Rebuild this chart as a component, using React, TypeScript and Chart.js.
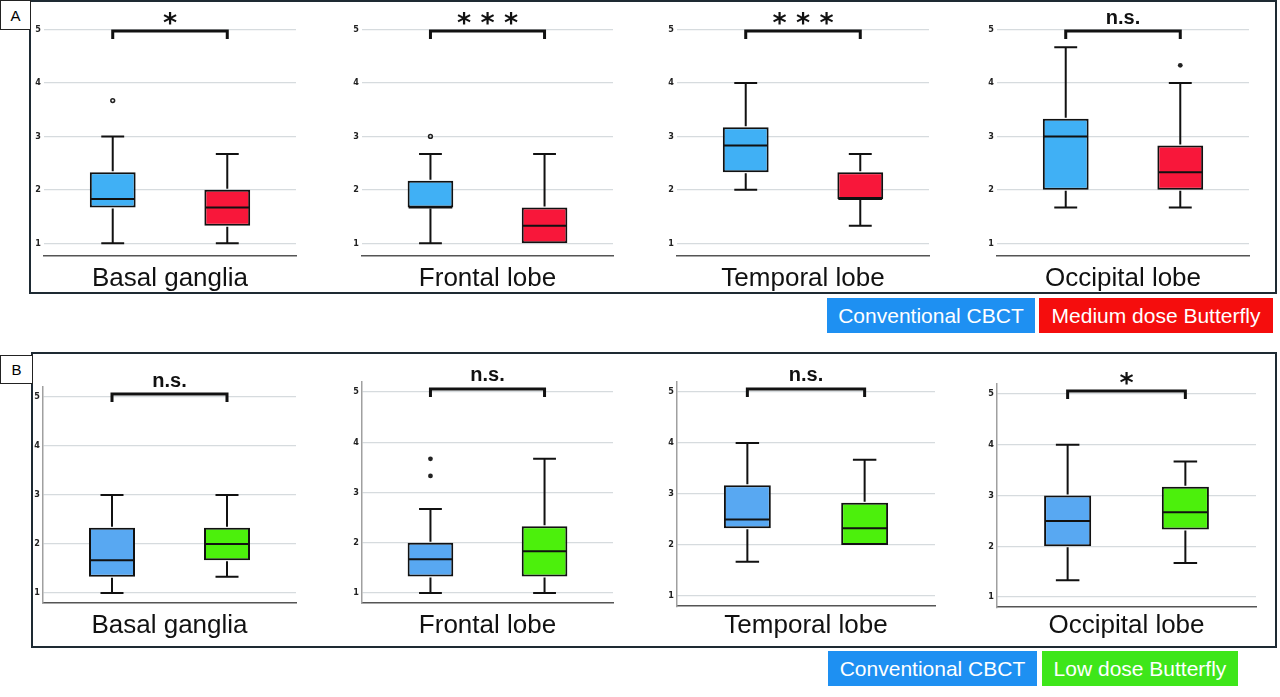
import React, { useEffect, useRef } from "react";
import { Chart, registerables } from "chart.js";

Chart.register(...registerables);

// ---------------- data ----------------
const REGIONS = ["Basal ganglia", "Frontal lobe", "Temporal lobe", "Occipital lobe"];
const Y_TICKS = [1, 2, 3, 4, 5];
const GROUP_POSITIONS = [0, 1];
const GROUPS_A = ["Conventional CBCT", "Medium dose Butterfly"];
const GROUPS_B = ["Conventional CBCT", "Low dose Butterfly"];

// box statistics: [min, q1, median, q3, max]
const A_CONVENTIONAL = [
  [1, 1.67, 1.83, 2.33, 3],
  [1, 1.67, 1.67, 2.17, 2.67],
  [2, 2.33, 2.83, 3.17, 4],
  [1.67, 2, 3, 3.33, 4.67],
];
const A_CONVENTIONAL_OUTLIERS = [[3.67], [3], [], []];
const A_MEDIUM = [
  [1, 1.33, 1.67, 2, 2.67],
  [1, 1, 1.33, 1.67, 2.67],
  [1.33, 1.83, 1.83, 2.33, 2.67],
  [1.67, 2, 2.33, 2.83, 4],
];
const A_MEDIUM_OUTLIERS = [[], [], [], [4.33]];
const A_SIGNIFICANCE = ["*", "* * *", "* * *", "n.s."];

const B_CONVENTIONAL = [
  [1, 1.33, 1.67, 2.33, 3],
  [1, 1.33, 1.67, 2, 2.67],
  [1.67, 2.33, 2.5, 3.17, 4],
  [1.33, 2, 2.5, 3, 4],
];
const B_CONVENTIONAL_OUTLIERS = [[], [3.33, 3.67], [], []];
const B_LOW = [
  [1.33, 1.67, 2, 2.33, 3],
  [1, 1.33, 1.83, 2.33, 3.67],
  [2, 2, 2.33, 2.83, 3.67],
  [1.67, 2.33, 2.67, 3.17, 3.67],
];
const B_LOW_OUTLIERS = [[], [], [], []];
const B_SIGNIFICANCE = ["n.s.", "n.s.", "n.s.", "*"];

// ---------------- layout / style ----------------
const FONT = '"Liberation Sans", Arial, Helvetica, sans-serif';
const DARK = "#1e2a33";

const PANELS: any = {
  A: {
    first: A_CONVENTIONAL,
    firstOut: A_CONVENTIONAL_OUTLIERS,
    second: A_MEDIUM,
    secondOut: A_MEDIUM_OUTLIERS,
    sig: A_SIGNIFICANCE,
    colors: ["#40b0f5", "#f8173a"],
    hollowCharts: [0, 1],
    yMin: 0.76,
    yMax: 5.2,
    canvasTop: 0,
    titleY: 278,
    bracketValue: 4.97,
    leftAxis: false,
  },
  B: {
    first: B_CONVENTIONAL,
    firstOut: B_CONVENTIONAL_OUTLIERS,
    second: B_LOW,
    secondOut: B_LOW_OUTLIERS,
    sig: B_SIGNIFICANCE,
    colors: ["#58a8f2", "#4cf00c"],
    hollowCharts: [],
    yMin: 0.8,
    yMax: 5.2,
    canvasTop: 356,
    titleY: 625,
    bracketValue: 5.06,
    leftAxis: true,
  },
};

const SPECS = [
  { panel: "A", idx: 0, L: 44, R: 296, y5: 29.5, y1: 243.3 },
  { panel: "A", idx: 1, L: 362, R: 613, y5: 29.5, y1: 243.3 },
  { panel: "A", idx: 2, L: 677, R: 929, y5: 29.5, y1: 243.3 },
  { panel: "A", idx: 3, L: 997, R: 1249, y5: 29.5, y1: 243.3 },
  { panel: "B", idx: 0, L: 43, R: 296, y5: 397, y1: 593 },
  { panel: "B", idx: 1, L: 362, R: 613, y5: 392, y1: 593 },
  { panel: "B", idx: 2, L: 677, R: 935, y5: 392, y1: 596 },
  { panel: "B", idx: 3, L: 997, R: 1256, y5: 394, y1: 597 },
];

const AXIS_W = 14;
const PAD_R = 2;
const TITLE_SIZE = 26;

function BoxChart({ spec }: { spec: any }) {
  const ref = useRef<HTMLCanvasElement>(null);
  const p = PANELS[spec.panel];
  const ppu = (spec.y1 - spec.y5) / 4;
  const plotTop = spec.y5 - (p.yMax - 5) * ppu;
  const plotBottom = spec.y1 + (1 - p.yMin) * ppu;
  const lineH = TITLE_SIZE * 1.2;
  const canvasLeft = spec.L - AXIS_W;
  const canvasW = Math.round(spec.R - spec.L + AXIS_W + PAD_R);
  const canvasTop = p.canvasTop;
  const canvasH = Math.round(p.titleY + lineH / 2 - canvasTop);
  const padTop = plotTop - canvasTop;
  const xAxisH = canvasTop + canvasH - plotBottom;

  useEffect(() => {
    if (!ref.current) return;
    const stats = [p.first[spec.idx], p.second[spec.idx]];
    const outliers = [p.firstOut[spec.idx], p.secondOut[spec.idx]];
    const sig = p.sig[spec.idx];
    const hollow = p.hollowCharts.indexOf(spec.idx) >= 0;

    const boxPlugin = {
      id: "boxplotDraw",
      afterDatasetsDraw(chart: any) {
        const { ctx } = chart;
        const xs = chart.scales.x;
        const ys = chart.scales.y;
        const meta = chart.getDatasetMeta(0);
        const centers: number[] = [];
        stats.forEach((s: number[], i: number) => {
          const bar = meta.data[i];
          const cx = xs.getPixelForValue(GROUP_POSITIONS[i]);
          centers.push(cx);
          const half = bar.width / 2;
          const capHalf = half / 2;
          const yMin = ys.getPixelForValue(s[0]);
          const yQ1 = ys.getPixelForValue(s[1]);
          const yMed = ys.getPixelForValue(s[2]);
          const yQ3 = ys.getPixelForValue(s[3]);
          const yMax = ys.getPixelForValue(s[4]);
          ctx.save();
          ctx.strokeStyle = "#111";
          ctx.lineWidth = 2;
          ctx.lineCap = "butt";
          if (s[4] > s[3]) {
            ctx.beginPath();
            ctx.moveTo(cx, yQ3 - 1);
            ctx.lineTo(cx, yMax);
            ctx.moveTo(cx - capHalf, yMax);
            ctx.lineTo(cx + capHalf, yMax);
            ctx.stroke();
          }
          if (s[0] < s[1]) {
            ctx.beginPath();
            ctx.moveTo(cx, yQ1 + 1);
            ctx.lineTo(cx, yMin);
            ctx.moveTo(cx - capHalf, yMin);
            ctx.lineTo(cx + capHalf, yMin);
            ctx.stroke();
          }
          ctx.beginPath();
          ctx.moveTo(cx - half + 1, yMed);
          ctx.lineTo(cx + half - 1, yMed);
          ctx.stroke();
          outliers[i].forEach((v: number) => {
            ctx.beginPath();
            ctx.arc(cx, ys.getPixelForValue(v), hollow ? 1.9 : 2.4, 0, Math.PI * 2);
            if (hollow) {
              ctx.lineWidth = 1.5;
              ctx.strokeStyle = "#222";
              ctx.stroke();
            } else {
              ctx.fillStyle = "#222";
              ctx.fill();
            }
          });
          ctx.restore();
        });
        // significance bracket
        const by = ys.getPixelForValue(p.bracketValue);
        ctx.save();
        ctx.strokeStyle = "#111";
        ctx.lineWidth = 3;
        ctx.lineJoin = "miter";
        ctx.beginPath();
        ctx.moveTo(centers[0], by + 8);
        ctx.lineTo(centers[0], by);
        ctx.lineTo(centers[1], by);
        ctx.lineTo(centers[1], by + 8);
        ctx.stroke();
        ctx.fillStyle = "#111";
        ctx.textAlign = "center";
        ctx.textBaseline = "alphabetic";
        const mid = (centers[0] + centers[1]) / 2;
        if (sig.indexOf("*") >= 0) {
          ctx.font = 'bold 27px "DejaVu Sans", sans-serif';
          ctx.fillText(sig, mid, by + 1);
        } else {
          ctx.font = "bold 20px " + FONT;
          ctx.fillText(sig, mid, by - 7.5);
        }
        ctx.restore();
      },
    };

    const chart = new Chart(ref.current, {
      type: "bar",
      data: {
        datasets: [
          {
            data: stats.map((s: number[], i: number) => ({ x: GROUP_POSITIONS[i], y: [s[1], s[3]] })) as any,
            backgroundColor: p.colors,
            borderColor: "#111",
            borderWidth: 2,
            borderSkipped: false,
            barPercentage: 0.5,
            categoryPercentage: 0.8,
          } as any,
        ],
      },
      options: {
        animation: false,
        responsive: false,
        devicePixelRatio: 1,
        events: [],
        layout: { padding: { top: padTop, right: PAD_R, left: 0, bottom: 0 } },
        plugins: {
          legend: { display: false },
          tooltip: { enabled: false },
        },
        scales: {
          x: {
            type: "linear",
            min: -0.6,
            max: 1.6,
            offset: false,
            afterBuildTicks(scale: any) {
              scale.ticks = GROUP_POSITIONS.map((v) => ({ value: v }));
            },
            ticks: { display: false },
            grid: { display: false, drawTicks: false, offset: false },
            border: { display: true, color: "#555", width: 1.5 },
            title: {
              display: true,
              text: REGIONS[spec.idx],
              color: "#111",
              font: { family: FONT, size: TITLE_SIZE, weight: "normal" as any, lineHeight: 1.2 },
              padding: 0,
            },
            afterFit(scale: any) {
              scale.height = xAxisH;
            },
          } as any,
          y: {
            type: "linear",
            min: p.yMin,
            max: p.yMax,
            afterBuildTicks(scale: any) {
              scale.ticks = Y_TICKS.map((v) => ({ value: v }));
            },
            afterFit(scale: any) {
              scale.width = AXIS_W;
            },
            ticks: {
              color: "#222",
              padding: 3,
              font: { family: '"DejaVu Sans Condensed", "DejaVu Sans", sans-serif', size: 9, weight: "bold" as any },
            },
            grid: { color: "#d6dbde", lineWidth: 1.2, drawTicks: false },
            border: { display: p.leftAxis, color: "#a0a0a0", width: 1.5 },
          } as any,
        },
      },
      plugins: [boxPlugin as any],
    });
    return () => chart.destroy();
  }, []);

  return (
    <canvas
      ref={ref}
      width={canvasW}
      height={canvasH}
      style={{ position: "absolute", left: canvasLeft, top: canvasTop, width: canvasW, height: canvasH }}
    />
  );
}

function LegendBox({ left, top, width, color, text }: any) {
  return (
    <div
      style={{
        position: "absolute",
        left,
        top,
        width,
        height: 35,
        background: color,
        color: "#fff",
        fontFamily: FONT,
        fontSize: 21,
        display: "flex",
        alignItems: "center",
        justifyContent: "center",
        whiteSpace: "nowrap",
      }}
    >
      {text}
    </div>
  );
}

export default function App() {
  return (
    <div
      style={{
        position: "absolute",
        left: 0,
        top: 0,
        width: 1280,
        height: 697,
        background: "#fff",
        overflow: "hidden",
        fontFamily: FONT,
      }}
    >
      {/* Panel A frame */}
      <div
        style={{
          position: "absolute",
          left: 29,
          top: 0,
          width: 1248,
          height: 294,
          border: `2px solid ${DARK}`,
          boxSizing: "border-box",
        }}
      />
      <div
        style={{
          position: "absolute",
          left: 0,
          top: 0,
          width: 31,
          height: 30,
          border: "1px solid #222",
          boxSizing: "border-box",
          display: "flex",
          alignItems: "center",
          justifyContent: "center",
          fontSize: 15,
          background: "#fff",
        }}
      >
        A
      </div>
      {/* Panel B frame */}
      <div
        style={{
          position: "absolute",
          left: 31,
          top: 352,
          width: 1246,
          height: 296,
          border: `2px solid ${DARK}`,
          boxSizing: "border-box",
        }}
      />
      <div
        style={{
          position: "absolute",
          left: 0,
          top: 355,
          width: 33,
          height: 29,
          border: "1px solid #222",
          boxSizing: "border-box",
          display: "flex",
          alignItems: "center",
          justifyContent: "center",
          fontSize: 15,
          background: "#fff",
        }}
      >
        B
      </div>

      {SPECS.map((s) => (
        <BoxChart key={s.panel + s.idx} spec={s} />
      ))}

      <LegendBox left={827} top={298} width={208} color="#1e90f2" text={GROUPS_A[0]} />
      <LegendBox left={1039} top={298} width={234} color="#f50d0d" text={GROUPS_A[1]} />
      <LegendBox left={828} top={651} width={209} color="#1e90f2" text={GROUPS_B[0]} />
      <LegendBox left={1042} top={651} width={196} color="#3ee61a" text={GROUPS_B[1]} />
    </div>
  );
}
